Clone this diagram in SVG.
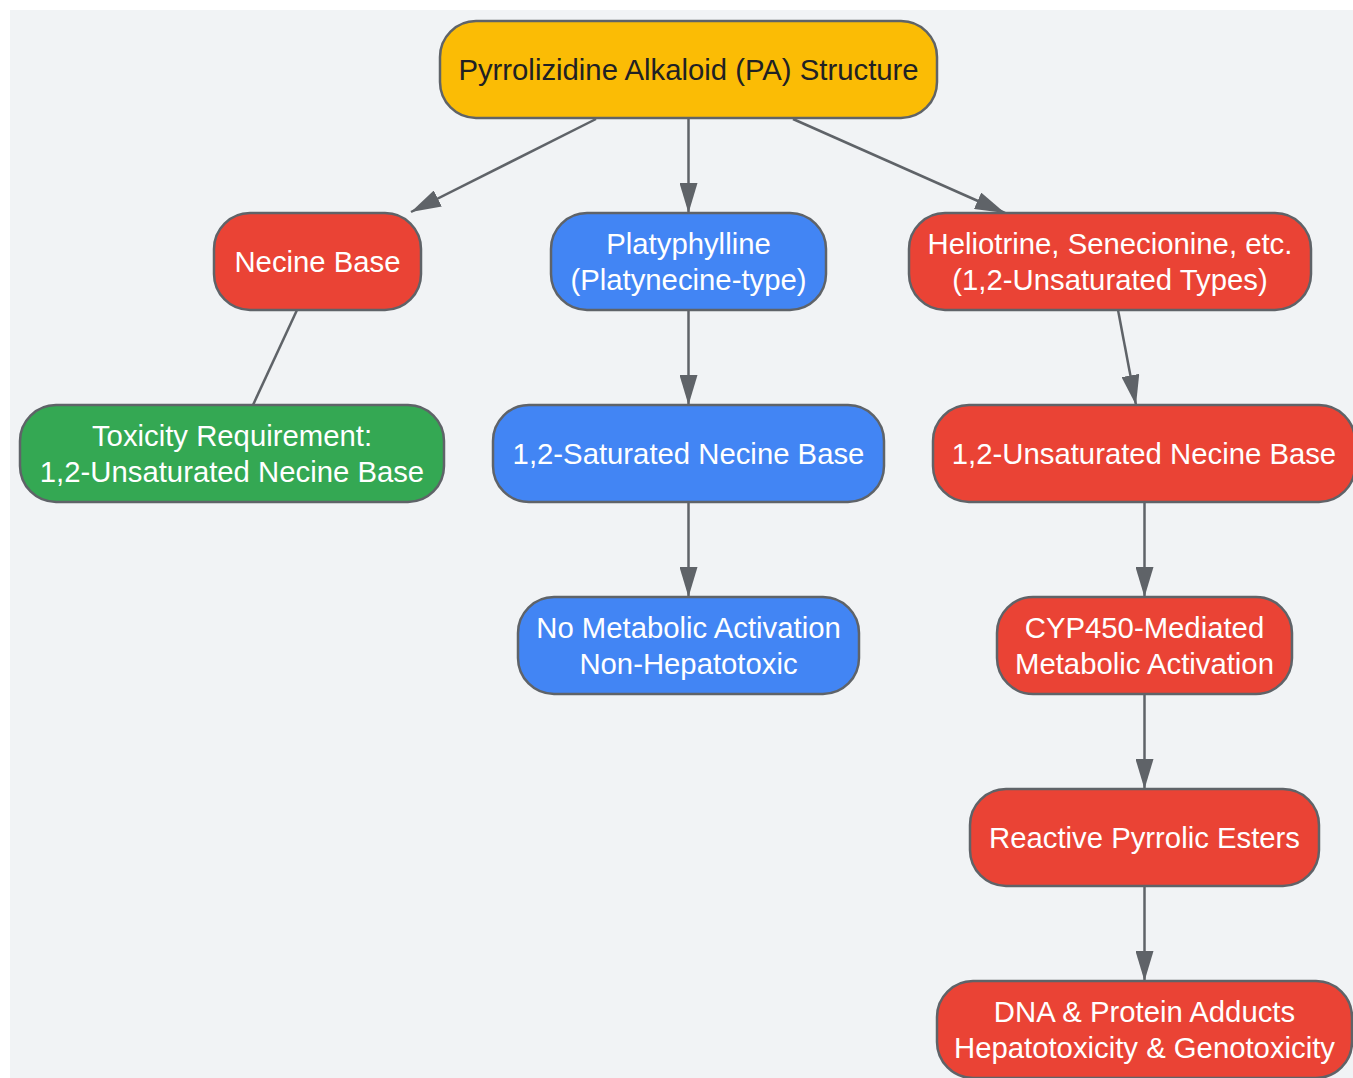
<svg xmlns="http://www.w3.org/2000/svg" width="1353" height="1078" viewBox="0 0 1353 1078">
<style>
.n rect{stroke:#5f6368;stroke-width:2.5}
.y{fill:#fbbc05}.r{fill:#ea4335}.b{fill:#4285f4}.g{fill:#34a853}
text{font-family:"Liberation Sans",Arial,sans-serif;font-size:29.3px;text-anchor:middle;dominant-baseline:central;fill:#ffffff}
text.d{fill:#202124}
.e line{stroke:#5f6368;stroke-width:2.5;fill:none}
</style>
<defs>
<marker id="ah" markerUnits="userSpaceOnUse" markerWidth="30" markerHeight="18" refX="30" refY="9" orient="auto">
<path d="M0,0 L30,9 L0,18 z" fill="#5f6368"/>
</marker>
</defs>
<rect x="10" y="10" width="1343" height="1068" fill="#f1f3f5"/>
<g class="e" id="edges">
<line x1="596" y1="119" x2="411" y2="212" marker-end="url(#ah)"/>
<line x1="688.5" y1="118" x2="688.5" y2="213" marker-end="url(#ah)"/>
<line x1="793" y1="119" x2="1005" y2="213" marker-end="url(#ah)"/>
<line x1="297" y1="310" x2="253" y2="405"/>
<line x1="688.5" y1="310" x2="688.5" y2="405" marker-end="url(#ah)"/>
<line x1="688.5" y1="502" x2="688.5" y2="597" marker-end="url(#ah)"/>
<line x1="1118" y1="310" x2="1136" y2="405" marker-end="url(#ah)"/>
<line x1="1144.5" y1="502" x2="1144.5" y2="597" marker-end="url(#ah)"/>
<line x1="1144.5" y1="694" x2="1144.5" y2="789" marker-end="url(#ah)"/>
<line x1="1144.5" y1="886" x2="1144.5" y2="981" marker-end="url(#ah)"/>
</g>
<g class="n" id="root"><rect class="y" x="440" y="21" width="497" height="97" rx="36"/><text class="d" x="688.5" y="69">Pyrrolizidine Alkaloid (PA) Structure</text></g>
<g class="n" id="necine"><rect class="r" x="214" y="213" width="207" height="97" rx="36"/><text x="317.5" y="261">Necine Base</text></g>
<g class="n" id="platy"><rect class="b" x="551" y="213" width="275" height="97" rx="36"/><text x="688.5" y="243">Platyphylline</text><text x="688.5" y="279">(Platynecine-type)</text></g>
<g class="n" id="helio"><rect class="r" x="909" y="213" width="402" height="97" rx="36"/><text x="1110" y="243">Heliotrine, Senecionine, etc.</text><text x="1110" y="279">(1,2-Unsaturated Types)</text></g>
<g class="n" id="toxreq"><rect class="g" x="20" y="405" width="424" height="97" rx="36"/><text x="232" y="435">Toxicity Requirement:</text><text x="232" y="471">1,2-Unsaturated Necine Base</text></g>
<g class="n" id="sat"><rect class="b" x="493" y="405" width="391" height="97" rx="36"/><text x="688.5" y="453">1,2-Saturated Necine Base</text></g>
<g class="n" id="unsat"><rect class="r" x="933" y="405" width="422" height="97" rx="36"/><text x="1144" y="453">1,2-Unsaturated Necine Base</text></g>
<g class="n" id="nometa"><rect class="b" x="518" y="597" width="341" height="97" rx="36"/><text x="688.5" y="627">No Metabolic Activation</text><text x="688.5" y="663">Non-Hepatotoxic</text></g>
<g class="n" id="cyp"><rect class="r" x="997" y="597" width="295" height="97" rx="36"/><text x="1144.5" y="627">CYP450-Mediated</text><text x="1144.5" y="663">Metabolic Activation</text></g>
<g class="n" id="reactive"><rect class="r" x="970" y="789" width="349" height="97" rx="36"/><text x="1144.5" y="837">Reactive Pyrrolic Esters</text></g>
<g class="n" id="dna"><rect class="r" x="937" y="981" width="415" height="97" rx="36"/><text x="1144.5" y="1011">DNA &amp; Protein Adducts</text><text x="1144.5" y="1047">Hepatotoxicity &amp; Genotoxicity</text></g>
</svg>
